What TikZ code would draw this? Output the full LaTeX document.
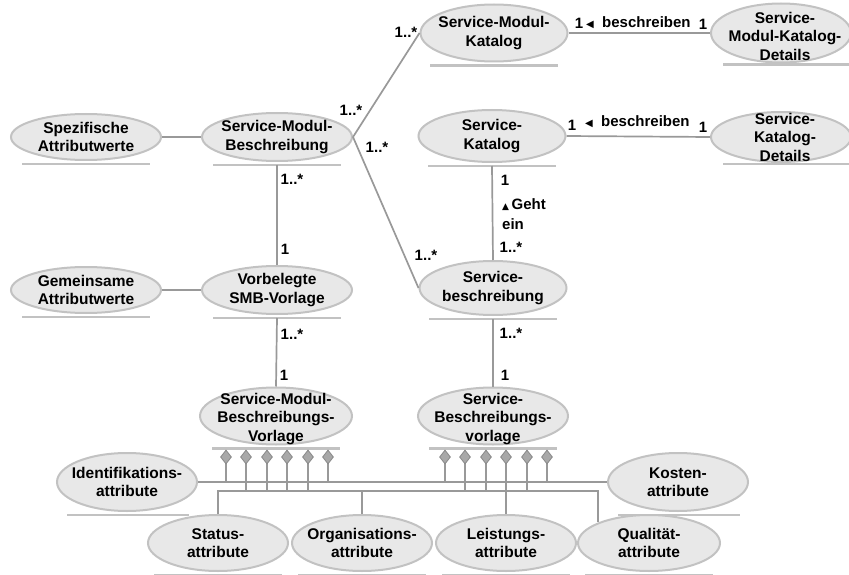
\documentclass[tikz,border=0pt]{standalone}
\usepackage{fontspec}
\setmainfont{Liberation Sans}
\newfontfamily\symfont{DejaVu Sans}
\usetikzlibrary{shapes.geometric}

\definecolor{randgrau}{HTML}{C2C2C2}
\definecolor{fuellgrau}{HTML}{E8E8E8}
\definecolor{liniengrau}{HTML}{999999}
\definecolor{strichgrau}{HTML}{C2C2C2}
\definecolor{rautengrau}{HTML}{A8A8A8}
\definecolor{rautenrand}{HTML}{888888}

\begin{document}
\begin{tikzpicture}[x=1pt, y=-1pt,
  klasse/.style={ellipse, draw=randgrau, fill=fuellgrau, line width=2pt, inner sep=0pt},
  schrift/.style={font=\bfseries\fontsize{15.5}{18.5}\selectfont, align=center, inner sep=0pt},
  mult/.style={font=\bfseries\fontsize{15}{20}\selectfont, inner sep=0pt},
  linie/.style={draw=liniengrau, line width=1.7pt},
  strich/.style={draw=strichgrau, line width=2.4pt},
  raute/.style={diamond, draw=rautenrand, fill=rautengrau, line width=0.8pt, minimum width=11pt, minimum height=14pt, inner sep=0pt}]
\useasboundingbox (0,0) rectangle (849,575);

% Klassen
\node [klasse, minimum width=150pt, minimum height=46pt] (spez) at (86,137) {};
\node [klasse, minimum width=150pt, minimum height=48pt] (smb) at (277,137) {};
\node [klasse, minimum width=150pt, minimum height=46pt] (gem) at (86,290) {};
\node [klasse, minimum width=150pt, minimum height=48pt] (vsmb) at (277,290) {};
\node [klasse, minimum width=152pt, minimum height=57pt] (smbv) at (276,416) {};
\node [klasse, minimum width=147pt, minimum height=57pt] (smk) at (494,33) {};
\node [klasse, minimum width=140pt, minimum height=59pt] (smkd) at (781,33) {};
\node [klasse, minimum width=147pt, minimum height=52pt] (sk) at (492,136) {};
\node [klasse, minimum width=140pt, minimum height=50pt] (skd) at (781,137) {};
\node [klasse, minimum width=147pt, minimum height=54pt] (sb) at (493,288) {};
\node [klasse, minimum width=150pt, minimum height=57pt] (sbv) at (493,416) {};
\node [klasse, minimum width=140pt, minimum height=58pt] (ident) at (127,482) {};
\node [klasse, minimum width=140pt, minimum height=58pt] (kosten) at (678,482) {};
\node [klasse, minimum width=140pt, minimum height=56pt] (status) at (218,543) {};
\node [klasse, minimum width=140pt, minimum height=56pt] (orga) at (362,543) {};
\node [klasse, minimum width=140pt, minimum height=56pt] (leist) at (506,543) {};
\node [klasse, minimum width=142pt, minimum height=56pt] (qual) at (649,543) {};

\node [schrift] (spezt) at (spez) {Spezifische\\Attributwerte};
\node [schrift] (smbt) at (smb) {Service-Modul-\\Beschreibung};
\node [schrift] (gemt) at (gem) {Gemeinsame\\Attributwerte};
\node [schrift] (vsmbt) at (vsmb) {Vorbelegte\\SMB-Vorlage};
\node [schrift] (smbvt) at ([shift={(0,3)}]smbv) {Service-Modul-\\Beschreibungs-\\Vorlage};
\node [schrift] (smkt) at (smk) {Service-Modul-\\Katalog};
\node [schrift] (smkdt) at ([shift={(4,3)}]smkd) {Service-\\Modul-Katalog-\\Details};
\node [schrift] (skt) at (sk) {Service-\\Katalog};
\node [schrift] (skdt) at ([shift={(4,0)}]skd) {Service-\\Katalog-\\Details};
\node [schrift] (sbt) at (sb) {Service-\\beschreibung};
\node [schrift] (sbvt) at ([shift={(0,3)}]sbv) {Service-\\Beschreibungs-\\vorlage};
\node [schrift] (identt) at (ident) {Identifikations-\\attribute};
\node [schrift] (kostent) at (kosten) {Kosten-\\attribute};
\node [schrift] (statust) at (status) {Status-\\attribute};
\node [schrift] (orgat) at (orga) {Organisations-\\attribute};
\node [schrift] (leistt) at (leist) {Leistungs-\\attribute};
\node [schrift] (qualt) at (qual) {Qualit\"at-\\attribute};

% Unterstriche
\foreach \n in {spez,smb,gem,vsmb,smbv,smk,sk,sb,sbv,status,orga,leist,qual}
  \draw [strich] ([shift={(-64,3)}]\n.south) -- ([shift={(64,3)}]\n.south);
\foreach \n in {ident,kosten}
  \draw [strich] ([shift={(-60,3)}]\n.south) -- ([shift={(62,3)}]\n.south);
\foreach \n in {smkd,skd}
  \draw [strich] ([shift={(-58,1)}]\n.south) -- ([shift={(68,1)}]\n.south);

% Verbindungen
\draw [linie] (spez.east) -- (smb.west);
\draw [linie] (gem.east) -- (vsmb.west);
\draw [linie] ([shift={(0,3)}]smb.south) -- (vsmb.north);
\draw [linie] ([shift={(0,3)}]vsmb.south) -- (smbv.north);
\draw [linie] (smb.east) -- (smk.west);
\draw [linie] (smb.east) -- (sb.west);
\draw [linie] ([shift={(0,3)}]sk.south) -- (sb.north);
\draw [linie, line width=2.6pt] ([shift={(0,3)}]sb.south) -- (sbv.north);
\draw [linie] (smk.east) -- (smkd.west);
\draw [linie] (sk.east) -- (skd.west);

% Attribut-Leisten
\coordinate (oben) at (0,482);
\coordinate (unten) at (0,491);
\draw [linie] (ident.east) -- (kosten.west);
\draw [linie] (status.north) -- (status.north |- unten) -- (qual.north west |- unten) -- (qual.north west);
\draw [linie] (orga.north) -- (orga.north |- unten);
\draw [linie] (leist.north) -- (leist.north |- unten);
\foreach \k/\mx in {a/277, b/496} {
  \foreach \dx/\ziel [count=\i] in {-51/oben, -31/unten, -10/unten, 10/unten, 31/unten, 51/oben} {
    \draw [linie] ({\mx+\dx},463) -- ({\mx+\dx},482 |- \ziel);
    \node [raute] (r\k\i) at ({\mx+\dx},457) {};
  }
}

% Multiplizitaeten
\node [mult] (m1) at ([shift={(-13.5,-1)}]smk.west) {1..*};
\node [mult] (m2) at ([shift={(-2,-27)}]smb.east) {1..*};
\node [mult] (m3) at ([shift={(24,10)}]smb.east) {1..*};
\node [mult] (m4) at ([shift={(7.5,-33)}]sb.west) {1..*};
\node [mult] (m5) at ([shift={(15,17)}]smb.south) {1..*};
\node [mult] (m6) at ([shift={(8,-16)}]vsmb.north) {1};
\node [mult] (m7) at ([shift={(15,19)}]vsmb.south) {1..*};
\node [mult] (m8) at ([shift={(8,-11)}]smbv.north) {1};
\node [mult] (m9) at ([shift={(13,17)}]sk.south) {1};
\node [mult, align=left, anchor=west] (geht) at ([shift={(9,-46)}]sb.north) {{\symfont\fontsize{9}{9}\selectfont ▲}\,Geht\\ein};
\node [mult] (m10) at ([shift={(18,-13)}]sb.north) {1..*};
\node [mult] (m11) at ([shift={(18,17)}]sb.south) {1..*};
\node [mult] (m12) at ([shift={(12,-11)}]sbv.north) {1};

\node [mult] (m13) at ([shift={(10.5,-10)}]smk.east) {1};
\node [mult, anchor=west] (besch1) at ([shift={(17.5,-10)}]smk.east) {{\symfont\fontsize{10}{10}\selectfont ◀}\ \ beschreiben};
\node [mult] (m14) at ([shift={(-7,-9)}]smkd.west) {1};
\node [mult] (m15) at ([shift={(5.5,-11)}]sk.east) {1};
\node [mult, anchor=west] (besch2) at ([shift={(18.5,-14)}]sk.east) {{\symfont\fontsize{10}{10}\selectfont ◀}\ \ beschreiben};
\node [mult] (m16) at ([shift={(-7,-10)}]skd.west) {1};
\end{tikzpicture}
\end{document}
